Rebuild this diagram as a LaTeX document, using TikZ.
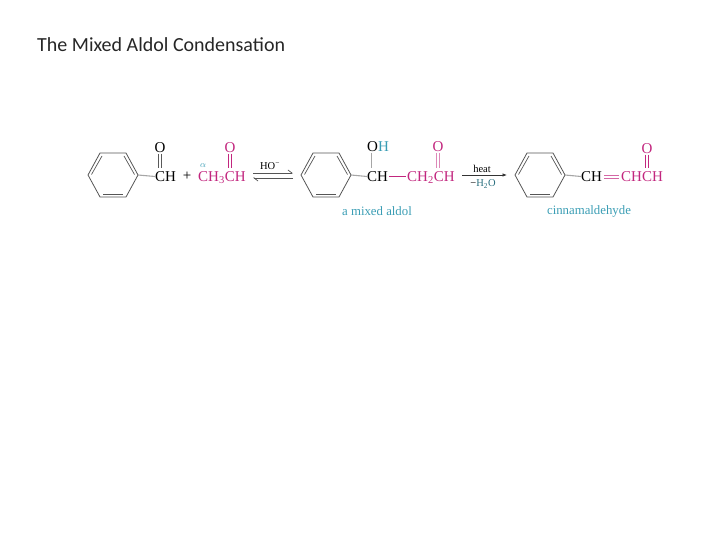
\documentclass[tikz,border=0pt]{standalone}
\usepackage{fontspec}
\setmainfont{Liberation Serif}
\newfontfamily\titlefont{Carlito}
\usepackage{tikz}
\usetikzlibrary{arrows.meta}
\usetikzlibrary{calc}
\definecolor{aldolpink}{HTML}{C2267E}
\definecolor{aldolteal}{HTML}{3A9DB4}
\definecolor{ringgray}{HTML}{555555}
\tikzset{
	atoms/.style={inner sep=0pt, font=\fontsize{15}{15}\selectfont},
	pinkatoms/.style={atoms, text=aldolpink},
	small/.style={inner sep=0pt, font=\fontsize{10.5}{11}\selectfont},
	caption/.style={inner sep=0pt, text=aldolteal, font=\fontsize{12.8}{13}\selectfont},
	bond/.style={black!35, line width=1.1pt},
	dblbond/.style={black!65, line width=.7pt},
	pinkdbl/.style={aldolpink, line width=.7pt},
	benzring/.pic={
		\draw[ringgray, line width=.8pt] (-25,0) coordinate (-l) -- (-13,-22) -- (13,-22) -- (25,0) coordinate (-r) -- (13,22) -- (-13,22) -- cycle;
		\draw[ringgray, line width=.7pt] (-21.5,-.5) -- (-11,-19);
		\draw[ringgray, line width=.7pt] (11,-19) -- (21.5,-.5);
		\draw[ringgray, line width=.7pt] (-10,19) -- (10,19);
	}
}
\begin{document}
\begin{tikzpicture}[x=1pt, y=-1pt]
	\useasboundingbox (0,0) rectangle (720,540);
	\node[anchor=west, inner sep=0pt, text=black!85, font=\titlefont\fontsize{20}{20}\selectfont] (title) at (37,45) {The Mixed Aldol Condensation};

	\pic (ringa) at (113,175) {benzring};
	\node[atoms] (oa) at (160,147.5) {O};
	\node[atoms, anchor=west] (cha) at (155,176.5) {CH};
	\draw[bond] (ringa-r) -- (cha.west);
	\foreach \s in {-1.3,1.3}
		\draw[dblbond] ([xshift=\s pt, yshift=-1pt]oa.south) -- ([xshift=\s pt, yshift=3.5pt]oa.south |- cha.north);
	\node[atoms] (plus) at (187,176.5) {+};
	\node[pinkatoms, anchor=base west] (cthree) at ($(cha.base west)+(43,0)$) {CH\textsubscript{3}CH};
	\node[inner sep=0pt, text=aldolteal, font=\itshape\fontsize{9}{9}\selectfont] (alpha) at (203,165.5) {$\alpha$};
	\node[pinkatoms] (ob) at (230,147.5) {O};
	\foreach \s in {-1.3,1.3}
		\draw[pinkdbl] ([xshift=\s pt, yshift=-1pt]ob.south) -- ([xshift=\s pt, yshift=3.5pt]ob.south |- cha.north);
	\node[small] (base) at (270,166) {HO\textsuperscript{−}};
	\coordinate (eqa) at (253,173);
	\coordinate (eqb) at (293,173);
	\coordinate (eqc) at (293,178);
	\coordinate (eqd) at (253,178);
	\draw[ringgray, line width=.7pt, -{Straight Barb[left, length=4pt, width=6pt]}] (eqa) -- (eqb);
	\draw[ringgray, line width=.7pt, -{Straight Barb[left, length=4pt, width=6pt]}] (eqc) -- (eqd);

	\pic (ringb) at (326,175) {benzring};
	\node[atoms, anchor=west] (ohh) at (367,146.5) {O\textcolor{aldolteal}{H}};
	\node[atoms, anchor=west] (chb) at (367,176.5) {CH};
	\draw[bond] (ringb-r) -- (chb.west);
	\draw[bond] ([xshift=4.5pt, yshift=-1pt]ohh.south west) -- ([xshift=4.5pt, yshift=3.5pt]chb.north west);
	\node[pinkatoms, anchor=base west] (chtwo) at ($(chb.base west)+(40,0)$) {CH\textsubscript{2}CH};
	\draw[aldolpink, line width=.9pt] ([xshift=1pt]chb.east) -- ([xshift=-1.5pt]chtwo.west |- chb.east);
	\node[pinkatoms] (oc) at (438,146.5) {O};
	\foreach \s in {-1.3,1.3}
		\draw[pinkdbl, aldolpink!55] ([xshift=\s pt, yshift=-1pt]oc.south) -- ([xshift=\s pt, yshift=3.5pt]oc.south |- chb.north);
	\node[small] (heat) at (482,169) {heat};
	\node[small] (water) at (483,184) {−\textcolor{aldolteal!70!black}{H\textsubscript{2}O}};
	\coordinate (rxa) at (462,175);
	\coordinate (rxb) at (507,175);
	\draw[black!80, line width=.7pt, -{Latex[length=4.5pt, width=3.5pt]}] (rxa) -- (rxb);
	\node[caption] (aldol) at (377,211) {a mixed aldol};

	\pic (ringc) at (540,175) {benzring};
	\node[atoms, anchor=west] (chc) at (581,176.5) {CH};
	\draw[bond] (ringc-r) -- (chc.west);
	\node[pinkatoms, anchor=base west] (chd) at ($(chc.base west)+(40,0)$) {CHCH};
	\foreach \s in {-1.5,1.5}
		\draw[pinkdbl, aldolpink!70] ([xshift=2pt, yshift=\s pt]chc.east) -- ([xshift=-2pt, yshift=\s pt]chd.west);
	\node[pinkatoms] (od) at (647,148.5) {O};
	\foreach \s in {-1.3,1.3}
		\draw[pinkdbl] ([xshift=\s pt, yshift=-1pt]od.south) -- ([xshift=\s pt, yshift=3.5pt]od.south |- chd.north);
	\node[caption] (cinnam) at (589,211.5) {cinnamaldehyde};
\end{tikzpicture}
\end{document}
